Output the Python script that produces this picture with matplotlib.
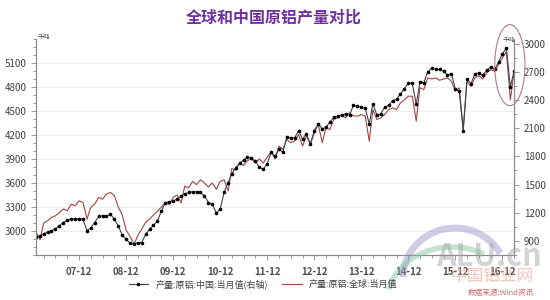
import numpy as np
import pandas as pd
import matplotlib
matplotlib.use("Agg")
import matplotlib.pyplot as plt
import matplotlib.dates as mdates
from matplotlib.patches import Ellipse, Arc
from matplotlib.lines import Line2D

plt.rcParams['font.family'] = ['Noto Sans CJK SC', 'DejaVu Sans']

# monthly, 2007-01 .. 2017-03
months = pd.date_range("2007-01-01", "2017-03-01", freq="MS")

# 产量:原铝:中国:当月值 (千吨, 右轴)
china = [
    940, 955, 978, 992, 1006, 1031, 1060, 1096, 1118, 1131, 1138, 1135,
    1131, 1006, 1042, 1096, 1160, 1167, 1162, 1184, 1131, 1060, 960, 917,
    875, 864, 882, 882, 971, 1024, 1067, 1113, 1220, 1309, 1316, 1327,
    1345, 1380, 1400, 1416, 1423, 1423, 1416, 1380, 1309, 1291, 1195, 1238,
    1420, 1520, 1612, 1680, 1729, 1760, 1790, 1783, 1750, 1683, 1665, 1720,
    1843, 1800, 1879, 1843, 2003, 1996, 1996, 2075, 1985, 2039, 1932, 2075,
    2146, 2093, 2110, 2164, 2217, 2228, 2240, 2253, 2242, 2342, 2335, 2324,
    2313, 2146, 2360, 2242, 2253, 2324, 2342, 2395, 2406, 2467, 2520, 2580,
    2580, 2353, 2591, 2584, 2698, 2740, 2726, 2726, 2705, 2669, 2680, 2520,
    2491, 2075, 2627, 2573, 2680, 2687, 2662, 2716, 2751, 2726, 2804, 2893,
    2953, 2537, 2708,
]

# 产量:原铝:全球:当月值 (千吨, 左轴)
world = [
    2990, 2890, 3100, 3128, 3170, 3190, 3230, 3274, 3253, 3336, 3315, 3377,
    3357, 3149, 3295, 3336, 3419, 3398, 3461, 3482, 3440, 3300, 3200, 3010,
    2930, 2838, 2941, 3025, 3108, 3150, 3200, 3250, 3300, 3350, 3330, 3420,
    3450, 3350, 3560, 3540, 3620, 3580, 3640, 3600, 3550, 3600, 3520, 3620,
    3640, 3500, 3780, 3760, 3850, 3820, 3880, 3900, 3850, 3900, 3850, 3920,
    3990, 3900, 4062, 4020, 4145, 4104, 4124, 4207, 4062, 4186, 4083, 4228,
    4332, 4104, 4290, 4269, 4394, 4415, 4456, 4415, 4477, 4440, 4435, 4456,
    4435, 4124, 4518, 4394, 4415, 4456, 4518, 4539, 4518, 4602, 4640, 4685,
    4685, 4373, 4789, 4768, 4913, 4901, 4913, 4884, 4900, 4913, 4872, 4747,
    4789, 4269, 4872, 4810, 4913, 4942, 4901, 4976, 5017, 4996, 5079, 5162,
    5245, 4640, 4976,
]

left_ticks = [3000, 3300, 3600, 3900, 4200, 4500, 4800, 5100]
right_ticks = [900, 1200, 1500, 1800, 2100, 2400, 2700, 3000]

red = '#a2463f'
blk_line = '#3a4656'
axis_col = '#8a8a8a'
txt_col = '#404040'

fig = plt.figure(figsize=(5.5, 3.0), dpi=100)

# logo swooshes behind everything (pixel coords -> figure fraction)
W, H = 550.0, 300.0
fig.patches.append(Arc((455 / W, 1 - 278 / H), 104 / W, 100 / H, theta1=45, theta2=178,
                       transform=fig.transFigure, color='#9a8fc8', lw=5, alpha=0.45))
fig.patches.append(Arc((452 / W, 1 - 302 / H), 130 / W, 110 / H, theta1=70, theta2=160,
                       transform=fig.transFigure, color='#7cc49a', lw=4, alpha=0.45))

ax = fig.add_axes([0.0655, 0.15, 0.869, 0.72])
ax.patch.set_alpha(0)
ax2 = ax.twinx()

ax.plot(months, world, color=red, lw=0.8)
ax2.plot(months, china, color=blk_line, lw=0.8, marker='o', ms=1.6,
         mfc='black', mec='black')

ax.set_xlim(months[0], months[-1])
ax.set_ylim(2700, 5400)
ax2.set_ylim(760, 3050)

ax.set_yticks(left_ticks)
ax.set_yticks(np.arange(2700, 5401, 100), minor=True)
ax2.set_yticks(right_ticks)
ax2.set_yticks(np.arange(750, 3050, 150), minor=True)
ax.grid(axis='y', color='#ededed', lw=0.6)
ax.set_axisbelow(True)

ax.xaxis.set_major_locator(mdates.MonthLocator(bymonth=12))
ax.xaxis.set_minor_locator(mdates.MonthLocator(bymonth=[3, 6, 9]))
ax.xaxis.set_major_formatter(mdates.DateFormatter('%y-%m'))

for a in (ax, ax2):
    a.spines['top'].set_visible(False)
    for s in ('left', 'right', 'bottom'):
        a.spines[s].set_color(axis_col)
        a.spines[s].set_linewidth(0.8)
    a.tick_params(which='both', colors=axis_col, labelcolor=txt_col,
                  labelsize=7, width=0.6)
    a.tick_params(which='major', length=3.5)
    a.tick_params(which='minor', length=2)
ax.tick_params(axis='x', pad=5)
for lb in ax.get_xticklabels():
    lb.set_fontweight('bold')
    lb.set_color('#505050')

fig.text(0.497, 0.94, '全球和中国原铝产量对比', ha='center', va='center',
         fontsize=11.5, fontweight='bold', color='#7030a0')
fig.text(0.068, 0.862, '千吨', fontsize=4.5, color=txt_col, va='bottom')
fig.text(0.913, 0.855, '千吨', fontsize=4.5, color=txt_col, va='bottom')

# highlight ellipse
fig.patches.append(Ellipse((0.927, 0.783), 0.055, 0.27, transform=fig.transFigure,
                           fill=False, ec='#b87a7a', lw=0.8))

# watermark
fig.text(0.89, 0.143, 'ALU.cn', fontsize=22, fontweight='bold', style='italic',
         color='#a0a0a0', alpha=0.45, ha='center', va='center')
fig.text(0.895, 0.08, '中国铝业网', fontsize=12, color='#f2b3a3', alpha=0.75,
         ha='center', va='center')
fig.text(0.91, 0.025, '数据来源:Wind资讯', fontsize=5.5, style='italic',
         color='#d06a6a', ha='center', va='center')

handles = [
    Line2D([], [], color=blk_line, lw=0.8, marker='o', ms=1.6, mfc='black',
           mec='black'),
    Line2D([], [], color=red, lw=0.8),
]
fig.legend(handles, ['产量:原铝:中国:当月值(右轴)', '产量:原铝:全球:当月值'],
           loc='center', bbox_to_anchor=(0.478, 0.053), ncol=2, frameon=False,
           fontsize=6.5, handlelength=2.2, columnspacing=1.5, labelcolor=txt_col)

fig.savefig('out.png', dpi=100)
